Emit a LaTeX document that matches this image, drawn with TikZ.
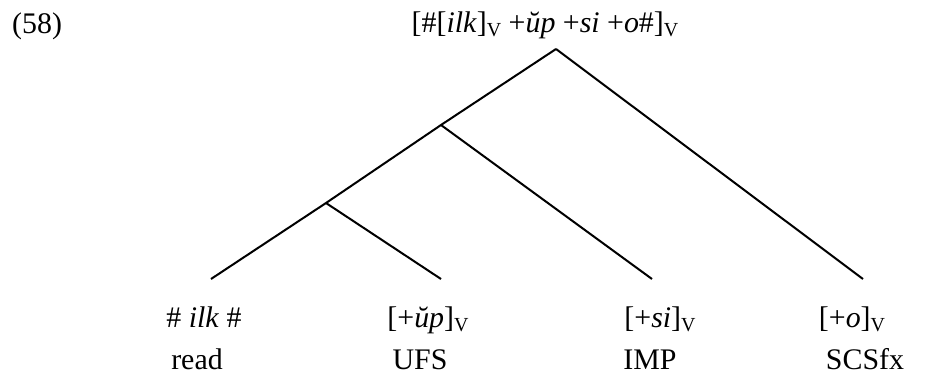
\documentclass[tikz,border=0pt]{standalone}
\usepackage{fontspec}
\setmainfont{Liberation Serif}
\newcommand\subV{\raisebox{-4bp}{\fontsize{20}{20}\selectfont V}}
\begin{document}
\begin{tikzpicture}[x=1bp,y=-1bp,
  lbl/.style={inner sep=0pt, anchor=base, font=\fontsize{30}{36}\selectfont},
  branch/.style={line width=2bp}]
\useasboundingbox (0,0) rectangle (930,376);
% labels
\node[lbl, anchor=base west] (num) at (12,33) {(58)};
\node[lbl] (toplbl) at (545,32) {[\#[\textit{ilk}]\subV\ +\textit{ŭp} +\textit{si} +\textit{o}\#]\subV};
\node[lbl] (m1) at (204,327) {\# \textit{ilk} \#};
\node[lbl] (m2) at (428,327) {[+\textit{ŭp}]\subV};
\node[lbl] (m3) at (660,327) {[+\textit{si}]\subV};
\node[lbl] (m4) at (852,327) {[+\textit{o}]\subV};
\node[lbl] (g1) at (197,369) {read};
\node[lbl] (g2) at (420,369) {UFS};
\node[lbl] (g3) at (650,369) {IMP};
\node[lbl] (g4) at (865,369) {SCSfx};
% tree
\coordinate (root) at (556,49);
\coordinate (j2) at (441,125);
\coordinate (j1) at (326,203);
\coordinate (l1) at (211,279);
\coordinate (l2) at (441,279);
\coordinate (l3) at (652,279);
\coordinate (l4) at (863,279);
\draw[branch] (root) -- (j2) -- (j1) -- (l1);
\draw[branch] (j1) -- (l2);
\draw[branch] (j2) -- (l3);
\draw[branch] (root) -- (l4);
\end{tikzpicture}
\end{document}
